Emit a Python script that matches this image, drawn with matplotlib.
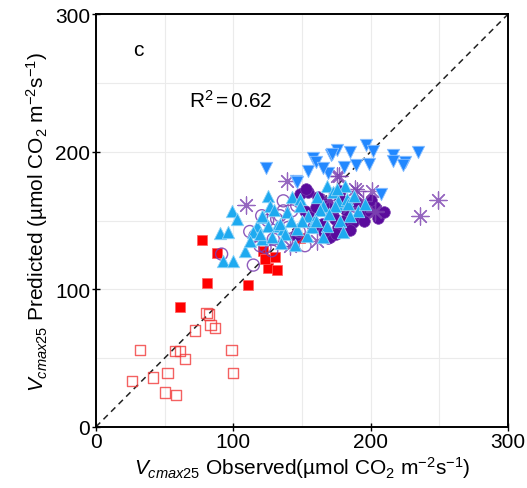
import matplotlib
matplotlib.use("Agg")
import matplotlib.pyplot as plt
import numpy as np

plt.rcParams['font.family'] = ['Liberation Sans', 'DejaVu Sans']
plt.rcParams['mathtext.fontset'] = 'custom'
plt.rcParams['mathtext.rm'] = 'Liberation Sans'
plt.rcParams['mathtext.it'] = 'Liberation Sans:italic'

# open red squares
open_sq_x = [32, 26.5, 41.8, 52.2, 50.3, 58.5, 57.8, 61.2, 64.6, 72.1, 80.6, 82.3, 83.5, 86.9, 98.8, 100]
open_sq_y = [56, 33.6, 35.8, 39, 25, 23, 55.4, 55.4, 49.4, 70, 82.6, 81.6, 73.8, 71.9, 56.1, 39.2]
# filled red squares
fill_sq_x = [80.6, 61.2, 110.5, 77, 87.9, 121.9, 130.6, 125.5, 131.6, 123, 148.6]
fill_sq_y = [104.4, 86.9, 103, 135.8, 126.4, 128, 123.2, 115.2, 114.2, 122, 137]
# up triangles
up_x = [90.3, 96.4, 99.3, 102.5, 92.7, 99.5, 108.5, 125.5, 126.7, 117, 121.9, 114.6, 120.7, 131.6, 136.4,
        142.5, 148.6, 138.9, 120.7, 125.5, 134, 137.7, 146.2, 154.6, 159.5, 153.5, 168, 160.7, 168, 172.8,
        175.3, 165.5, 119.4, 128, 148.6, 181.4, 175.3, 176.5, 182.6, 183.8, 174, 191, 185, 178, 163, 150,
        157, 142, 130, 188, 170, 160, 145, 135, 112, 196, 180, 165]
up_y = [140.9, 141.8, 157, 151, 120.8, 120.8, 128, 168, 160.7, 146, 152.3, 141.4, 136.5, 146, 143.8,
        166.8, 165.6, 156, 153.5, 145.7, 147.4, 140.2, 143.8, 153.5, 151, 139, 146, 166.8, 175.2, 170.4,
        162, 160.7, 140.2, 137.8, 160.7, 175.2, 172.8, 164.3, 165.6, 162, 160.7, 157, 153.5, 150, 158, 150,
        145, 150, 158, 168, 155, 150, 132, 134, 135, 162, 142, 138]
# down triangles
down_x = [196.6, 202, 185, 175.7, 171.2, 158.3, 160, 180.6, 189.4, 199, 154.2, 169.2, 216.5, 216.5,
          225, 223.8, 234.7, 145.7, 207.4, 123.8, 146.2, 171.7, 165]
down_y = [205, 200.6, 199.9, 201.4, 197.5, 195.1, 192.2, 189, 190.3, 191, 186.1, 184.2, 197.5, 193.4,
          192.2, 190.3, 199.5, 178.9, 169.2, 188.1, 177.7, 198.3, 188]
# purple filled circles
pc_x = [154.6, 169.2, 172.8, 152.2, 171.7, 174, 180.1, 187.4, 197.2, 170.4, 192.3, 176.5, 148.6, 153,
        161.7, 177.7, 186.5, 199.6, 155.9, 164.6, 145.7, 182, 160, 166, 190, 203, 178, 158,
        195, 205, 185, 168, 200, 210, 175]
pc_y = [170.4, 137.3, 153.5, 157, 154.7, 151, 149.8, 148.6, 157, 137.8, 154.7, 145, 169, 172.9,
        167, 171.4, 162, 156.9, 152.5, 147.4, 139.4, 158, 160, 142, 163, 160, 166, 145,
        150, 152, 143, 163, 165, 156, 140]
# purple open circles
po_x = [91.5, 114.6, 123.1, 115.8, 119.4, 128, 136.4, 131.6, 136.4, 129.1, 138.9, 142.5, 134, 120.7,
        146.2, 152.2, 125, 140, 112, 148]
po_y = [125.6, 117.6, 130.5, 138.9, 131.7, 128, 157, 151, 164.3, 136.5, 135.3, 157, 153.5, 153.5,
        160.7, 131.7, 150, 145, 142, 142]
# asterisks
ast_x = [109, 138.9, 177.2, 189.8, 200.8, 203.2, 248.9, 236, 194.7, 160.7, 141.3, 188.6, 203.2, 175.3, 170, 184]
ast_y = [161.2, 178.9, 182.5, 171.6, 171.6, 157, 165, 153.5, 164.3, 135.3, 131.7, 172.8, 155.9, 182.5, 165, 160]

fig = plt.figure(figsize=(5.27, 4.89), dpi=100)
ax = fig.add_axes([0.182, 0.125, 0.782, 0.844])

ax.plot([0, 300], [0, 300], ls=(0, (4, 3)), color='#222222', lw=1.1, zorder=1)

ax.scatter(open_sq_x, open_sq_y, marker='s', s=55, facecolors='none', edgecolors='#f23a3a', linewidths=1.0, alpha=0.8, zorder=3)
ax.scatter(fill_sq_x, fill_sq_y, marker='s', s=45, color='#ff0000', edgecolors='#ff6060', linewidths=0.5, zorder=3)
ax.scatter(pc_x, pc_y, marker='o', s=70, color='#5a0b9c', edgecolors='#7a3ab0', linewidths=0.5, zorder=3)
ax.scatter(po_x, po_y, marker='o', s=75, facecolors='none', edgecolors='#7b3fb0', linewidths=1.0, alpha=0.85, zorder=3)
ax.scatter(ast_x, ast_y, marker=(8, 2, 0), s=150, color='#7b40b0', linewidths=0.9, alpha=0.8, zorder=3)
ax.scatter(up_x, up_y, marker='^', s=80, color='#1eaaf0', edgecolors='#8fd3f7', linewidths=0.6, zorder=4)
ax.scatter(down_x, down_y, marker='v', s=80, color='#2288ff', edgecolors='#8ec2ff', linewidths=0.6, zorder=4)

ax.set_xlim(0, 300)
ax.set_ylim(0, 300)
ax.set_xticks([0, 100, 200, 300])
ax.set_yticks([0, 100, 200, 300])
ax.set_xticks([50, 150, 250], minor=True)
ax.set_yticks([50, 150, 250], minor=True)
ax.grid(True, which='both', color='#ebebeb', lw=0.8, zorder=0)
ax.set_axisbelow(True)
ax.tick_params(which='major', direction='inout', length=6, width=1, labelsize=15, pad=1, colors='black')
ax.tick_params(which='minor', length=0)
for sp in ax.spines.values():
    sp.set_linewidth(1.4)
    sp.set_color('black')

ax.set_xlabel(r'$V_{cmax25}$ Observed(µmol CO$_2$ m$^{-2}$s$^{-1}$)', fontsize=15, labelpad=2)
ax.set_ylabel(r'$V_{cmax25}$ Predicted (µmol CO$_2$ m$^{-2}$s$^{-1}$)', fontsize=15, labelpad=4)

ax.text(30.6, 274.5, 'c', fontsize=15, ha='center', va='center')
ax.text(68, 238, r'R$^2$$\,$=$\,$0.62', fontsize=15, ha='left', va='center')

fig.savefig('out.png', dpi=100)
